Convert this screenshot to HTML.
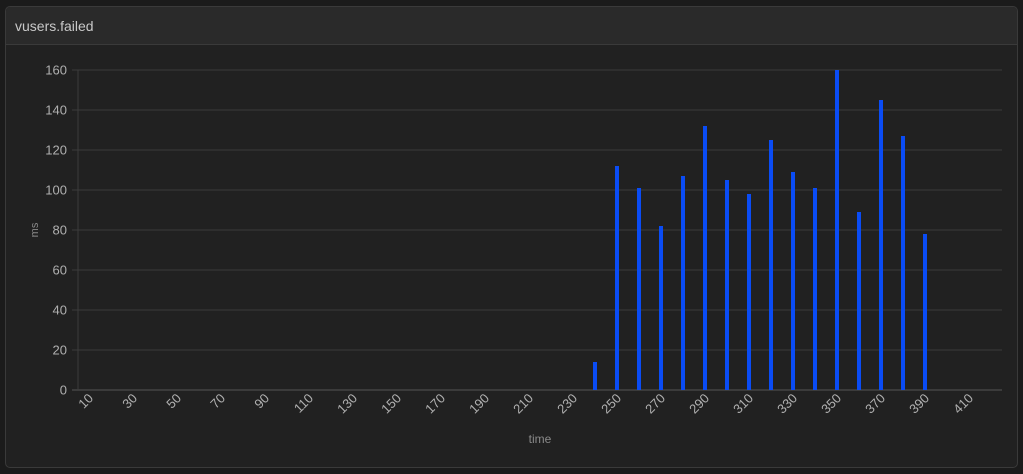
<!DOCTYPE html>
<html><head><meta charset="utf-8"><style>
body{margin:0;background:#1b1b1b;font-family:"Liberation Sans",sans-serif;width:1023px;height:474px;overflow:hidden}
#panel{position:absolute;left:5px;top:6px;width:1011px;height:460px;border:1px solid #3a3a3a;border-radius:5px;background:#212121;overflow:hidden}
#hdr{height:37px;background:#2a2a2a;border-bottom:1px solid #3a3a3a;color:#c8c8c8;font-size:14px;line-height:38px;padding-left:9px}
svg{position:absolute;left:0;top:0}
</style></head><body>
<div id="panel">
<div id="hdr">vusers.failed</div>
</div>
<svg id="chart" width="1023" height="474"></svg>
<script>
const categories=[10,20,30,40,50,60,70,80,90,100,110,120,130,140,150,160,170,180,190,200,210,220,230,240,250,260,270,280,290,300,310,320,330,340,350,360,370,380,390,400,410,420];
const values=[0,0,0,0,0,0,0,0,0,0,0,0,0,0,0,0,0,0,0,0,0,0,0,14,112,101,82,107,132,105,98,125,109,101,160,89,145,127,78,0,0,0];
const yTicks=[0,20,40,60,80,100,120,140,160];
const xLabels=[10,30,50,70,90,110,130,150,170,190,210,230,250,270,290,310,330,350,370,390,410];
const L=78,R=1002,T=70,B=390,yMax=160;
const svg=document.getElementById('chart');
const NS='http://www.w3.org/2000/svg';
const band=(R-L)/categories.length;
const xs=c=>L+(categories.indexOf(c)+0.5)*band;
const ys=v=>B-(v/yMax)*(B-T);
function mk(t,a){const e=document.createElementNS(NS,t);for(const k in a)e.setAttribute(k,a[k]);svg.appendChild(e);return e;}
yTicks.forEach(v=>{
 const l=mk('line',{x1:72,x2:R,y1:ys(v),y2:ys(v),stroke:v===0?'#555':'#3c3c3c','stroke-width':1});
 
 
 const t=mk('text',{x:67,y:ys(v)+4.5,'text-anchor':'end',fill:'#b0b0b0','font-size':13});
 t.textContent=v;
 
 
});
const ax=mk('line',{x1:L,x2:L,y1:T,y2:B,stroke:'#3c3c3c'});


categories.forEach((c,i)=>{
 if(!values[i])return;
 const r=mk('rect',{x:xs(c)-2,y:ys(values[i]),width:4,height:B-ys(values[i]),fill:'#0a4cf5'});
 
 
});
xLabels.forEach(c=>{
 const x=xs(c)+5,y=399;
 const t=mk('text',{x:x,y:y,'text-anchor':'end',fill:'#b0b0b0','font-size':13,transform:`rotate(-45 ${x} ${y})`});
 t.textContent=c;
 
 
});
const xt=mk('text',{x:540,y:443,'text-anchor':'middle',fill:'#8a8a8a','font-size':12});
xt.textContent='time';


const yt=mk('text',{x:38,y:230,'text-anchor':'middle',fill:'#8a8a8a','font-size':11,transform:'rotate(-90 38 230)'});
yt.textContent='ms';


</script>
</body></html>
